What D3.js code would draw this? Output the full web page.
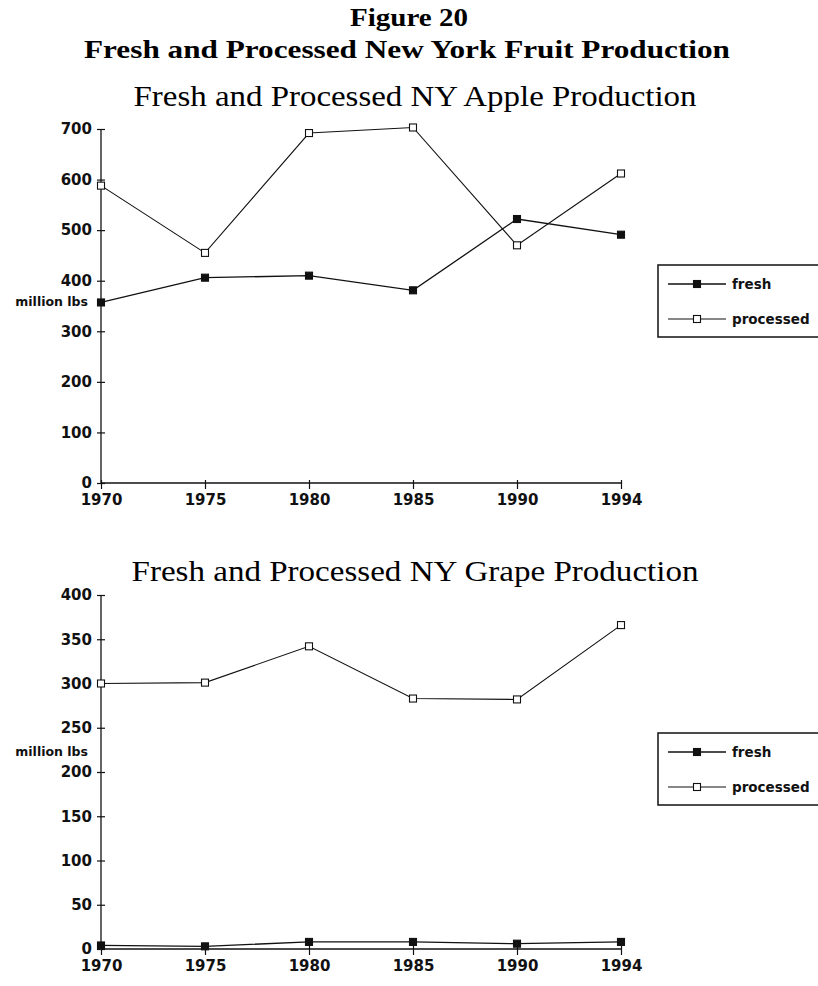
<!DOCTYPE html>
<html>
<head>
<meta charset="utf-8">
<script src="https://cdn.jsdelivr.net/npm/d3@7/dist/d3.min.js"></script>
<style>
  body { margin: 0; background: #fff; }
  svg { display: block; }
</style>
</head>
<body>
<svg id="fig" width="818" height="986"></svg>
<script>
// data
var years = ["1970", "1975", "1980", "1985", "1990", "1994"];
var appleFresh = [357, 406, 410, 381, 522, 491];
var appleProcessed = [588, 455, 692, 703, 470, 612];
var grapeFresh = [4, 3, 8, 8, 6, 8];
var grapeProcessed = [300, 301, 342, 283, 282, 366];
var appleTicks = [0, 100, 200, 300, 400, 500, 600, 700];
var grapeTicks = [0, 50, 100, 150, 200, 250, 300, 350, 400];
var seriesNames = ["fresh", "processed"];

var svg = d3.select("#fig");
var serif = "'Liberation Serif', 'DejaVu Serif', serif";
var sans = "'DejaVu Sans', 'Liberation Sans', sans-serif";

// headings
svg.append("text")
    .attr("x", 409).attr("y", 26)
    .attr("text-anchor", "middle")
    .attr("font-family", serif).attr("font-weight", "bold")
    .attr("font-size", 25)
    .attr("textLength", 118).attr("lengthAdjust", "spacingAndGlyphs")
    .text("Figure 20");

svg.append("text")
    .attr("x", 407).attr("y", 58)
    .attr("text-anchor", "middle")
    .attr("font-family", serif).attr("font-weight", "bold")
    .attr("font-size", 25)
    .attr("textLength", 646).attr("lengthAdjust", "spacingAndGlyphs")
    .text("Fresh and Processed New York Fruit Production");

function drawChart(opt) {
    var x = d3.scalePoint()
        .domain(years)
        .range([101, 621]);

    var y = d3.scaleLinear()
        .domain([0, d3.max(opt.ticks)])
        .range([opt.y0, opt.y1]);

    // sub title
    svg.append("text")
        .attr("x", 415).attr("y", opt.titleY)
        .attr("text-anchor", "middle")
        .attr("font-family", serif)
        .attr("font-size", 30)
        .attr("textLength", opt.titleW).attr("lengthAdjust", "spacingAndGlyphs")
        .text(opt.title);

    var g = svg.append("g");

    // y axis: ticks cross the line
    var yAxis = d3.axisLeft(y)
        .tickValues(opt.ticks)
        .tickSize(4)
        .tickPadding(6);
    var ya = g.append("g")
        .attr("transform", "translate(" + x(years[0]) + ",0)")
        .call(yAxis);
    ya.select(".domain").remove();
    ya.append("line")
        .attr("x1", 0).attr("x2", 0)
        .attr("y1", y(0)).attr("y2", y(d3.max(opt.ticks)))
        .attr("stroke", "#111").attr("stroke-width", 1.3);
    ya.selectAll(".tick line")
        .attr("x1", -4).attr("x2", 4)
        .attr("stroke", "#111").attr("stroke-width", 1.2);
    ya.selectAll(".tick text")
        .attr("font-family", sans).attr("font-weight", "bold")
        .attr("font-size", 15).attr("fill", "#111")
        .attr("x", -9);

    // x axis
    var xAxis = d3.axisBottom(x)
        .tickSize(6)
        .tickPadding(5);
    var xa = g.append("g")
        .attr("transform", "translate(0," + y(0) + ")")
        .call(xAxis);
    xa.select(".domain").remove();
    xa.append("line")
        .attr("x1", x(years[0])).attr("x2", x(years[years.length - 1]))
        .attr("y1", 0).attr("y2", 0)
        .attr("stroke", "#111").attr("stroke-width", 1.3);
    xa.selectAll(".tick line")
        .attr("y1", -3)
        .attr("stroke", "#111").attr("stroke-width", 1.2);
    xa.selectAll(".tick text")
        .attr("font-family", sans).attr("font-weight", "bold")
        .attr("font-size", 15).attr("fill", "#111");

    // axis label
    g.append("text")
        .attr("x", 88).attr("y", opt.labelY)
        .attr("text-anchor", "end")
        .attr("font-family", sans).attr("font-weight", "bold")
        .attr("font-size", 12.5).attr("fill", "#111")
        .text("million lbs");

    var line = d3.line()
        .x(function (d, i) { return x(years[i]); })
        .y(function (d) { return y(d); });

    var series = [
        {name: "processed", values: opt.processed, fill: "#fff", width: 1.1},
        {name: "fresh", values: opt.fresh, fill: "#111", width: 1.3}
    ];

    series.forEach(function (s) {
        g.append("path")
            .datum(s.values)
            .attr("fill", "none")
            .attr("stroke", "#111")
            .attr("stroke-width", s.width)
            .attr("d", line);

        g.selectAll(null)
            .data(s.values)
            .enter()
            .append("rect")
            .attr("x", function (d, i) { return x(years[i]) - 3.5; })
            .attr("y", function (d) { return y(d) - 3.5; })
            .attr("width", 7).attr("height", 7)
            .attr("fill", s.fill)
            .attr("stroke", "#111").attr("stroke-width", 1.1);
    });

    // legend
    var lg = g.append("g").attr("transform", "translate(658," + opt.legendY + ")");
    lg.append("rect")
        .attr("x", 0).attr("y", 0)
        .attr("width", 170).attr("height", 72)
        .attr("fill", "#fff")
        .attr("stroke", "#111").attr("stroke-width", 1.5);

    seriesNames.forEach(function (name, i) {
        var ly = 19 + i * 35;
        var filled = name === "fresh";
        lg.append("line")
            .attr("x1", 10).attr("x2", 68)
            .attr("y1", ly).attr("y2", ly)
            .attr("stroke", "#111").attr("stroke-width", filled ? 1.3 : 1.1);
        lg.append("rect")
            .attr("x", 39 - 3.5).attr("y", ly - 3.5)
            .attr("width", 7).attr("height", 7)
            .attr("fill", filled ? "#111" : "#fff")
            .attr("stroke", "#111").attr("stroke-width", 1.1);
        lg.append("text")
            .attr("x", 74).attr("y", ly + 5)
            .attr("font-family", sans).attr("font-weight", "bold")
            .attr("font-size", 13.5).attr("fill", "#111")
            .text(name);
    });
}

drawChart({
    title: "Fresh and Processed NY Apple Production",
    titleY: 106, titleW: 563,
    ticks: appleTicks,
    y0: 483, y1: 129,
    labelY: 306,
    legendY: 265,
    fresh: appleFresh,
    processed: appleProcessed
});

drawChart({
    title: "Fresh and Processed NY Grape Production",
    titleY: 581, titleW: 567,
    ticks: grapeTicks,
    y0: 949, y1: 595,
    labelY: 756,
    legendY: 733,
    fresh: grapeFresh,
    processed: grapeProcessed
});
</script>
</body>
</html>
